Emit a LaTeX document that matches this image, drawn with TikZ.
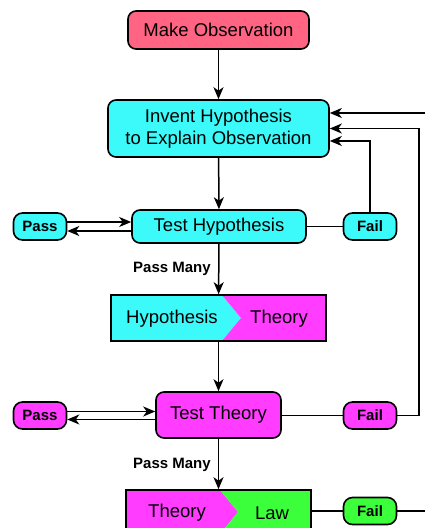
\documentclass[tikz,border=0pt]{standalone}
\usepackage{fontspec}
\setmainfont{Liberation Sans}
\usetikzlibrary{arrows.meta}
\definecolor{obsred}{RGB}{255,100,130}
\definecolor{hypcyan}{RGB}{60,250,250}
\definecolor{themag}{RGB}{255,60,255}
\definecolor{lawgreen}{RGB}{60,255,60}
\tikzset{
  stepbox/.style={draw, line width=1.6pt, rounded corners=8pt, inner sep=0pt,
    font=\fontsize{18.5}{21.5}\selectfont, align=center},
  verdict/.style={draw, line width=1.6pt, rounded corners=9pt, inner sep=0pt,
    minimum width=53pt, minimum height=27pt, font=\fontsize{15}{17}\selectfont\bfseries},
  framebox/.style={draw, line width=1.6pt, inner sep=0pt},
  arr/.style={line width=1.5pt, -{Stealth[length=12pt,width=10pt,inset=3.5pt]}},
  ln/.style={line width=1.5pt},
}
\begin{document}
\begin{tikzpicture}[x=1pt,y=-1pt]
                        \clip (0,0) rectangle (425,528);
                        \useasboundingbox (0,0) rectangle (425,528);
                        {\fontsize{18.5}{21.5}\selectfont

                        % Drawing box obs
                        \node [stepbox, fill=obsred, minimum width=181pt, minimum height=38pt] (obs) at (218.5,30) {Make Observation};%

                        % Drawing box invent
                        \node [stepbox, fill=hypcyan, minimum width=221pt, minimum height=57pt] (invent) at (218.5,128.5) {Invent Hypothesis\\to Explain Observation};%

                        % Drawing box testhyp and its verdicts
                        \node [stepbox, fill=hypcyan, minimum width=174pt, minimum height=33pt] (testhyp) at (219,226.5) {Test Hypothesis};%
                        \node [verdict, fill=hypcyan] (passhyp) at (40,226.5) {Pass};%
                        \node [verdict, fill=hypcyan] (failhyp) at (370,226.5) {Fail};%
                        \node [font=\fontsize{15}{17}\selectfont\bfseries] (manyhyp) at (172,269) {Pass Many};%

                        % Drawing split box hypthe
                        \fill [hypcyan] (111,295) -- (222,295) -- (241,318) -- (222,341) -- (111,341) -- cycle;%
                        \fill [themag] (222,295) -- (326,295) -- (326,341) -- (222,341) -- (241,318) -- cycle;%
                        \node [framebox, minimum width=215pt, minimum height=46pt] (hypthe) at (218.5,318) {};%
                        \node (hyplabel) at (172,319) {Hypothesis};%
                        \node (thelabel) at (279,319) {Theory};%

                        % Drawing box testthe and its verdicts
                        \node [stepbox, fill=themag, minimum width=125pt, minimum height=46pt] (testthe) at (218.5,415) {Test Theory};%
                        \node [verdict, fill=themag] (passthe) at (40,415.5) {Pass};%
                        \node [verdict, fill=themag] (failthe) at (370,415.5) {Fail};%
                        \node [font=\fontsize{15}{17}\selectfont\bfseries] (manythe) at (172,464.5) {Pass Many};%

                        % Drawing split box thelaw
                        \fill [themag] (126,490) -- (220,490) -- (238,512) -- (220,534) -- (126,534) -- cycle;%
                        \fill [lawgreen] (220,490) -- (311,490) -- (311,534) -- (220,534) -- (238,512) -- cycle;%
                        \node [framebox, minimum width=185pt, minimum height=44pt] (thelaw) at (218.5,512) {};%
                        \node (thelabel2) at (177,513) {Theory};%
                        \node (lawlabel) at (272,513) {Law};%
                        \node [verdict, fill=lawgreen] (faillaw) at (370,511) {Fail};%

                        % Drawing connectors down the middle
                        \draw [arr] (obs) -- (invent);%
                        \draw [arr] (invent) -- (testhyp);%
                        \draw [arr] (testhyp) -- (hypthe);%
                        \draw [arr] (hypthe) -- (testthe);%
                        \draw [arr] (testthe) -- (thelaw);%

                        % Drawing pass loops
                        \draw [arr] ([yshift=4.5pt]passhyp.east) -- ([yshift=4.5pt]testhyp.west);%
                        \draw [arr] ([yshift=-4.5pt]testhyp.west) -- ([yshift=-4.5pt]passhyp.east);%
                        \draw [arr] ([yshift=4pt]passthe.east) -- ([yshift=4pt]passthe.east -| testthe.west);%
                        \draw [arr] ([yshift=-4pt]passthe.east -| testthe.west) -- ([yshift=-4pt]passthe.east);%

                        % Drawing fail loops back to invent
                        \coordinate (loopR) at (419,128.5);%
                        \coordinate (topin) at (430,113);%
                        \coordinate (lawout) at (430,511);%
                        \draw [ln] (testhyp) -- (failhyp);%
                        \draw [arr] (failhyp.north) |- ([yshift=-12.5pt]invent.east);%
                        \draw [ln] (testthe.east |- failthe) -- (failthe);%
                        \draw [arr] (failthe.east) -| (loopR) -- (invent.east);%
                        \draw [arr] (topin) -- ([yshift=15.5pt]invent.east);%
                        \draw [ln] (thelaw.east |- faillaw) -- (faillaw) -- (lawout);%
                        }
                    \end{tikzpicture}
\end{document}
